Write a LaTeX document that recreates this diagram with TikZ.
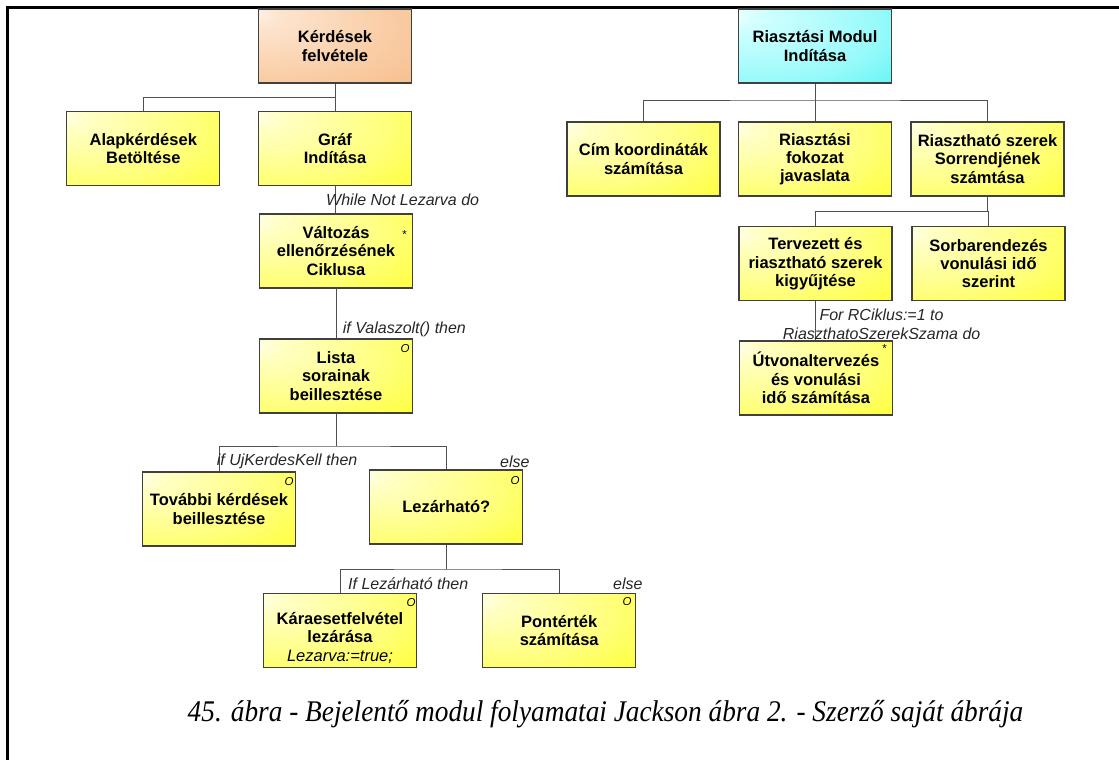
\documentclass[tikz,border=0pt]{standalone}
\usepackage{fontspec}
\setmainfont{Liberation Sans}
\newfontfamily\capfont{Liberation Serif}
\usetikzlibrary{calc}

% box fills: light upper-left highlight fading to a saturated lower-right corner
\definecolor{yA}{HTML}{FFFFEE}
\definecolor{yB}{HTML}{FFFFC4}
\definecolor{yC}{HTML}{FFFF78}
\definecolor{yD}{HTML}{FFFF00}
\definecolor{oA}{HTML}{FFF4EA}
\definecolor{oB}{HTML}{FDE4CE}
\definecolor{oC}{HTML}{F9CBA2}
\definecolor{oD}{HTML}{F5AE70}
\definecolor{cA}{HTML}{F2FFFF}
\definecolor{cB}{HTML}{D2FFFF}
\definecolor{cC}{HTML}{98FAFA}
\definecolor{cD}{HTML}{20EEEE}
\definecolor{boxline}{HTML}{404040}
\definecolor{connline}{HTML}{505050}
\definecolor{labtext}{HTML}{262626}

\pgfdeclareradialshading{yelfill}{\pgfpoint{-28bp}{22bp}}{color(0bp)=(yA); color(8bp)=(yB); color(36bp)=(yC); color(70bp)=(yD); color(100bp)=(yD)}
\pgfdeclareradialshading{orafill}{\pgfpoint{-28bp}{22bp}}{color(0bp)=(oA); color(8bp)=(oB); color(38bp)=(oC); color(75bp)=(oD); color(100bp)=(oD)}
\pgfdeclareradialshading{cyafill}{\pgfpoint{-28bp}{22bp}}{color(0bp)=(cA); color(8bp)=(cB); color(38bp)=(cC); color(75bp)=(cD); color(100bp)=(cD)}

\tikzset{
  box/.style={draw=boxline, line width=1.2pt, minimum width=153pt, minimum height=74pt,
    inner sep=0pt, align=center, shade, shading=yelfill,
    font=\fontsize{16.5}{18.3}\selectfont\bfseries},
  rootbox/.style={box, shading=orafill},
  cyanbox/.style={box, shading=cyafill},
  conn/.style={draw=connline, line width=1pt},
  lab/.style={anchor=west, inner sep=0pt, text=labtext,
    font=\fontsize{16}{18}\selectfont\itshape},
  boxmark/.style={anchor=base, inner sep=0pt, font=\fontsize{11.5}{12}\selectfont\itshape},
  frame/.style={line width=2.2pt, line join=miter}
}

\begin{document}
\begin{tikzpicture}[x=1pt, y=-1pt]
\useasboundingbox (0,0) rectangle (1119,760);

% outer frame (open to the right and bottom)
\draw[frame] (7.5,760) -- (7.5,7.5) -- (1119,7.5);

% ---------- left tree ----------
\node[rootbox] (kerd)   at (335,46)    {Kérdések\\felvétele};
\node[box]     (alap)   at (143.3,148.3) {Alapkérdések\\Betöltése};
\node[box]     (graf)   at (335,148.3) {Gráf\\Indítása};
\node[box]     (valt)   at (336,251)   {Változás\\ellenőrzésének\\Ciklusa};
\node[box]     (lista)  at (336,376)   {Lista\\sorainak\\beillesztése};
\node[box]     (tovabb) at (219,509)   {További kérdések\\beillesztése};
\node[box]     (lezar)  at (446.3,507) {Lezárható?};
\node[box]     (kara)   at (340,630.3)
  {\raisebox{-9pt}[\height][\depth]{\begin{tabular}{@{}c@{}}Káraesetfelvétel\\lezárása\\{\mdseries\itshape Lezarva:=true;}\end{tabular}}};
\node[box]     (pont)   at (559.2,630.3) {Pontérték\\számítása};

% ---------- right tree ----------
\node[cyanbox] (riaszt) at (815,46)    {Riasztási Modul\\Indítása};
\node[box]     (cim)    at (643.5,159) {Cím koordináták\\számítása};
\node[box]     (fokoz)  at (815,159)   {Riasztási\\fokozat\\javaslata};
\node[box]     (szerek) at (987.5,159) {Riasztható szerek\\Sorrendjének\\számtása};
\node[box]     (terv)   at (815.5,263.7) {Tervezett és\\riasztható szerek\\kigyűjtése};
\node[box]     (sorb)   at (988.5,263.7) {Sorbarendezés\\vonulási idő\\szerint};
\node[box]     (utvon)  at (816,378)   {Útvonaltervezés\\és vonulási\\idő számítása};

% junction points of the connectors
\coordinate (jk) at (335,97.3);
\coordinate (jl) at (336,446);
\coordinate (jz) at (446.3,569);
\coordinate (jr) at (815,100);
\coordinate (js) at (987.5,211.7);

% ---------- connectors ----------
\draw[conn] (kerd.south) -- (jk);
\draw[conn] (alap.north) |- (jk) -- (graf.north);
\draw[conn] (graf.south) -- (graf.south |- valt.north);
\draw[conn] (valt.south) -- (lista.north);
\draw[conn] (lista.south) -- (jl);
\draw[conn] (tovabb.north) |- (jl) -| (lezar.north);
\draw[conn] (lezar.south) -- (jz);
\draw[conn] (kara.north) |- (jz) -| (pont.north);

\draw[conn] (riaszt.south) -- (jr);
\draw[conn] (cim.north) |- (jr) -| (szerek.north);
\draw[conn] (jr) -- (fokoz.north);
\draw[conn] (szerek.south) -- (js);
\draw[conn] (terv.north) |- (js) -| (sorb.north);
\draw[conn] (terv.south) -- (terv.south |- utvon.north);

% ---------- connector labels ----------
\node[lab] (lwhile) at (326,200)   {While Not Lezarva do};
\node[lab] (lvalas) at (342.7,329.3) {if Valaszolt() then};
\node[lab] (lujk)   at (216.7,461.7) {if UjKerdesKell then};
\node[lab] (lels1)  at (500,461.5) {else};
\node[lab] (llez)   at (348,583.3) {If Lezárható then};
\node[lab] (lels2)  at (613,583.3) {else};
\node[lab] (lfor)   at (819.3,315) {For RCiklus:=1 to};
\begin{scope}
  \clip (760,320) rectangle (1010,338.2);
  \node[lab] (lfor2) at (782.7,333.6) {RiaszthatoSzerekSzama do};
\end{scope}

% ---------- iteration / selection marks ----------
\node[boxmark] (mvalt)  at (404,238.6) {*};
\node[boxmark] (mlista) at (405,352.3) {O};
\node[boxmark] (mtov)   at (289,485.3) {O};
\node[boxmark] (mlez)   at (515,484.6) {O};
\node[boxmark] (mkara)  at (411,606.3) {O};
\node[boxmark] (mpont)  at (627,605.6) {O};
\node[boxmark] (mutv)   at (884,352.6) {*};

% ---------- caption ----------
\node[font=\capfont\itshape\fontsize{30}{34}\selectfont, inner sep=0pt] (capt) at (605.5,714)
  {\scalebox{0.91}[1]{45. ábra - Bejelentő modul folyamatai Jackson ábra 2. - Szerző saját ábrája}};
\end{tikzpicture}
\end{document}
